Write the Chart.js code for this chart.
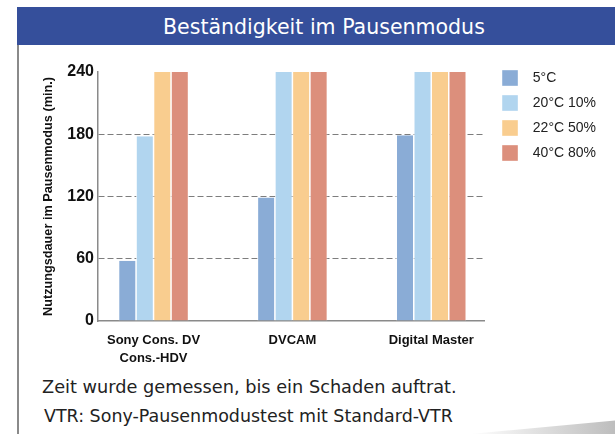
<!DOCTYPE html>
<html>
<head>
<meta charset="utf-8">
<script src="https://cdn.jsdelivr.net/npm/chart.js@4.4.1/dist/chart.umd.min.js"></script>
<style>
html, body { margin: 0; padding: 0; background: #fff; }
#wrap { position: relative; width: 615px; height: 434px; overflow: hidden; }
#titleBar { position: absolute; left: 17px; top: 7px; width: 598px; height: 38px; background: #354f9b; }
#leftLine { position: absolute; left: 17px; top: 45px; width: 2px; height: 389px; background: #8a8a8a; }
#shadow { position: absolute; left: 470px; top: 418px; width: 145px; height: 16px;
  background: linear-gradient(to right, rgba(200,200,200,0), #bdbdbd);
  clip-path: polygon(0% 100%, 100% 15%, 100% 100%); }
.txt { position: absolute; white-space: nowrap; line-height: 1; transform: translateY(-50%);
  font-family: "DejaVu Sans", sans-serif; }
#title { left: 163px; top: 27px; color: #fff; font-size: 18px; }
#note1 { left: 42px; top: 388px; color: #222; font-size: 16px; }
#note2 { left: 44px; top: 417px; color: #222; font-size: 16px; }
#chart { position: absolute; left: 0; top: 0; }
</style>
</head>
<body>
<div id="wrap">
  <div id="titleBar"></div>
  <div id="leftLine"></div>
  <div id="shadow"></div>
  <span class="txt" id="title" data-w="322">Beständigkeit im Pausenmodus</span>
  <span class="txt" id="note1" data-w="415">Zeit wurde gemessen, bis ein Schaden auftrat.</span>
  <span class="txt" id="note2" data-w="409">VTR: Sony-Pausenmodustest mit Standard-VTR</span>
  <canvas id="chart" width="615" height="434"></canvas>
</div>
<script>
// chart data
var categories = [['Sony Cons. DV', 'Cons.-HDV'], 'DVCAM', 'Digital Master'];
var seriesNames = ['5°C', '20°C 10%', '22°C 50%', '40°C 80%'];
var vals5 = [58, 119, 179];
var vals20 = [178, 240, 240];
var vals22 = [240, 240, 240];
var vals40 = [240, 240, 240];
var yTicks = [0, 60, 120, 180, 240];
var yTitle = 'Nutzungsdauer im Pausenmodus (min.)';

var barColors = ['#8aacd6', '#b1d5ef', '#f9cd8f', '#dc8f7c'];
var sans = "'Liberation Sans', Arial, sans-serif";

// html texts: stretch font size to the measured width
function fitText(el) {
	var w = parseFloat(el.getAttribute('data-w'));
	var size = parseFloat(getComputedStyle(el).fontSize);
	var r = el.getBoundingClientRect().width;
	el.style.fontSize = (size * w / r) + 'px';
}
var txts = document.querySelectorAll('.txt');
for (var t = 0; t < txts.length; t++) fitText(txts[t]);

var seriesVals = [vals5, vals20, vals22, vals40];
var datasets = [];
for (var i = 0; i < seriesNames.length; i++) {
	datasets.push({
		label: seriesNames[i],
		data: seriesVals[i].map(function(v, k) { return {x: k + 1, y: v}; }),
		backgroundColor: barColors[i],
		borderColor: '#ffffff',
		borderWidth: {left: 0.75, right: 0.75, top: 0, bottom: 0},
		inflateAmount: 0,
		barThickness: 17.5
	});
}

var chart = new Chart(document.getElementById('chart'), {
	type: 'bar',
	data: { datasets: datasets },
	options: {
		responsive: false,
		animation: false,
		events: [],
		layout: { padding: { left: 37, top: 61, right: 9, bottom: 63 } },
		plugins: {
			tooltip: { enabled: false },
			legend: {
				position: 'right',
				align: 'start',
				maxWidth: 200,
				labels: {
					boxWidth: 16,
					boxHeight: 16,
					padding: 9,
					color: '#222',
					font: { family: sans, size: 14 },
					// a bit more room between box and text
					generateLabels: function(ch) {
						var items = Chart.defaults.plugins.legend.labels.generateLabels(ch);
						items.forEach(function(it) { it.text = '\u00a0\u00a0' + it.text; });
						return items;
					}
				}
			}
		},
		scales: {
			x: {
				type: 'linear',
				min: 0.6,
				max: 3.38,
				offset: false,
				grid: { display: false, drawTicks: false },
				border: { display: true, color: '#8a8a8a', width: 1.5 },
				afterBuildTicks: function(s) {
					s.ticks = categories.map(function(c, k) { return {value: k + 1}; });
				},
				afterFit: function(s) { s.height = 50; },
				ticks: {
					autoSkip: false,
					maxRotation: 0,
					padding: 10,
					color: '#111',
					font: { family: sans, size: 13, weight: 'bold', lineHeight: 1.4 },
					callback: function(v) { return categories[v - 1]; }
				}
			},
			y: {
				min: 0,
				max: 240,
				afterBuildTicks: function(s) {
					s.ticks = yTicks.map(function(v) { return {value: v}; });
				},
				afterFit: function(s) { s.width = 61; s.paddingTop = 72; },
				grid: {
					drawTicks: false,
					lineWidth: 1,
					color: function(c) {
						return (c.tick && c.tick.value > 0 && c.tick.value < 240) ? '#7d7d7d' : 'rgba(0,0,0,0)';
					}
				},
				border: { display: true, color: '#8a8a8a', width: 1.5, dash: [6, 3] },
				ticks: {
					padding: 4,
					color: '#111',
					font: { family: sans, size: 16, weight: 'bold' }
				},
				title: {
					display: true,
					text: yTitle,
					color: '#111',
					padding: { top: 4, bottom: 0 },
					font: { family: sans, size: 12.7, weight: 'bold' }
				}
			},
			// empty axis, only keeps a gap between plot and legend
			gap: {
				type: 'linear',
				position: 'right',
				display: true,
				grid: { display: false },
				border: { display: false },
				ticks: { display: false },
				afterFit: function(s) { s.width = 9; }
			}
		}
	}
});
</script>
</body>
</html>
